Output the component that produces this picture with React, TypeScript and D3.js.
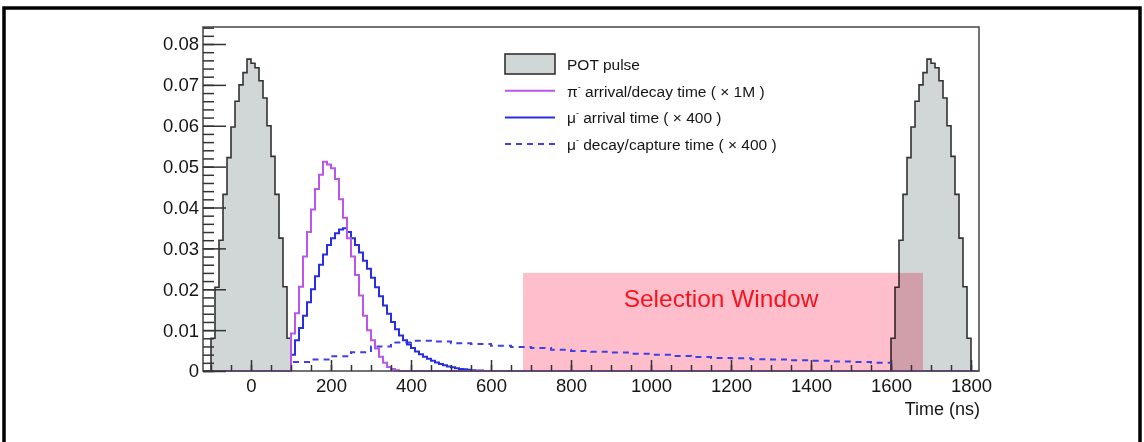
import React, { useEffect, useRef } from 'react';
import * as d3 from 'd3';

// POT pulse histogram (10 ns bins starting at -100 ns), repeated one period later
const potBinStart = -100;
const potRepeatStart = 1600;
const potValues = [
  0.0080, 0.0205, 0.0320, 0.0432, 0.0522, 0.0597, 0.0660, 0.0700, 0.0730, 0.0763,
  0.0753, 0.0742, 0.0710, 0.0668, 0.0600, 0.0525, 0.0432, 0.0325, 0.0206, 0.0080,
];

// pi- arrival/decay time (x 1M), 10 ns bins from 100 ns
const pionBinStart = 100;
const pionValues = [
  0.0092, 0.0141, 0.0206, 0.0280, 0.0340, 0.0395, 0.0445, 0.0480, 0.0512, 0.0505,
  0.0496, 0.0470, 0.0420, 0.0375, 0.0325, 0.0280, 0.0235, 0.0185, 0.0135, 0.0100,
  0.0075, 0.0055, 0.0035, 0.0020, 0.0010, 0.0005, 0.0002,
];

// mu- arrival time (x 400), 10 ns bins from 100 ns
const muArrBinStart = 100;
const muArrValues = [
  0.0040, 0.0075, 0.0105, 0.0135, 0.0168, 0.0200, 0.0232, 0.0260, 0.0285, 0.0308,
  0.0325, 0.0337, 0.0346, 0.0349, 0.0340, 0.0325, 0.0308, 0.0290, 0.0270, 0.0250,
  0.0228, 0.0205, 0.0183, 0.0160, 0.0140, 0.0120, 0.0102, 0.0087, 0.0075, 0.0065,
  0.0056, 0.0048, 0.0041, 0.0035, 0.0030, 0.0025, 0.0021, 0.0017, 0.0014, 0.0011,
  0.0009, 0.0007, 0.0005, 0.0004, 0.0003, 0.0002, 0.0001, 0.0001,
];

// mu- decay/capture time (x 400), 50 ns bins from 100 ns
const muDecBinStart = 100;
const muDecValues = [
  0.0022, 0.0028, 0.0036, 0.0046, 0.0060, 0.0070, 0.0074, 0.0072, 0.0068, 0.0066,
  0.0062, 0.0059, 0.0056, 0.0052, 0.0049, 0.0047, 0.0045, 0.0042, 0.0040, 0.0037,
  0.0034, 0.0032, 0.0031, 0.0029, 0.0028, 0.0026, 0.0025, 0.0023, 0.0022, 0.0020,
];

const selectionWindow = [680, 1680];
const selectionHeight = 0.024;

const xTicks = [0, 200, 400, 600, 800, 1000, 1200, 1400, 1600, 1800];
const yTicks = [0, 0.01, 0.02, 0.03, 0.04, 0.05, 0.06, 0.07, 0.08];

const legendItems = [
  { key: 'pot', sym: 'POT', label: 'POT pulse' },
  { key: 'pion', sym: 'π', label: ' arrival/decay time ( × 1M )' },
  { key: 'muArr', sym: 'μ', label: ' arrival time ( × 400 )' },
  { key: 'muDec', sym: 'μ', label: ' decay/capture time ( × 400 )' },
];

const FONT = '"Liberation Sans", Arial, Helvetica, sans-serif';

export default function App() {
  const svgRef = useRef<SVGSVGElement | null>(null);

  useEffect(() => {
    if (!svgRef.current) return;
    const width = 1144;
    const height = 442;
    const left = 203, right = 979, top = 27, bottom = 371;

    const svg = d3.select(svgRef.current);
    svg.selectAll('*').remove();
    svg.attr('width', width).attr('height', height);

    const x = d3.scaleLinear().domain([-120, 1820]).range([left, right]);
    const y = d3.scaleLinear().domain([0, 0.08416]).range([bottom, top]);

    // outer figure border
    svg.append('rect')
      .attr('x', 4).attr('y', 8).attr('width', 1136).attr('height', 460)
      .attr('fill', '#fff').attr('stroke', '#000').attr('stroke-width', 3.5);

    const toPoints = (start: number, w: number, vals: number[]) =>
      vals.map((v, i) => ({ x: start + i * w, y: v }));

    const stepLine = d3.line<{ x: number; y: number }>()
      .x(d => x(d.x)).y(d => y(d.y)).curve(d3.curveStepAfter);
    const stepArea = d3.area<{ x: number; y: number }>()
      .x(d => x(d.x)).y0(y(0)).y1(d => y(d.y)).curve(d3.curveStepAfter);

    // POT pulses
    [potBinStart, potRepeatStart].forEach(s => {
      const pts = toPoints(s, 10, potValues);
      const end = s + potValues.length * 10;
      const full = [{ x: s, y: 0 }, ...pts, { x: end, y: 0 }];
      svg.append('path').datum(full).attr('d', stepArea).attr('fill', '#d1d6d6');
      svg.append('path').datum(full).attr('d', stepLine)
        .attr('fill', 'none').attr('stroke', '#333').attr('stroke-width', 1.6);
    });

    // selection window (multiplied over the pulse)
    svg.append('rect')
      .attr('x', x(selectionWindow[0])).attr('y', y(selectionHeight))
      .attr('width', x(selectionWindow[1]) - x(selectionWindow[0]))
      .attr('height', y(0) - y(selectionHeight))
      .attr('fill', '#ffbecb')
      .style('mix-blend-mode', 'multiply');

    svg.append('text')
      .attr('x', (x(selectionWindow[0]) + x(selectionWindow[1])) / 2 - 2)
      .attr('y', 307)
      .attr('text-anchor', 'middle')
      .attr('fill', '#f5141e')
      .style('font-family', FONT).style('font-size', '24.5px')
      .text('Selection Window');

    const drawHist = (start: number, w: number, vals: number[], color: string, dash?: string) => {
      const pts = toPoints(start, w, vals);
      const end = start + vals.length * w;
      const full = [{ x: -120, y: 0 }, ...pts, { x: end, y: 0 }, { x: 1820, y: 0 }];
      const p = svg.append('path').datum(full).attr('d', stepLine)
        .attr('fill', 'none').attr('stroke', color).attr('stroke-width', 2);
      if (dash) p.attr('stroke-dasharray', dash);
    };

    drawHist(muDecBinStart, 50, muDecValues, '#3f3fe6', '6,5');
    drawHist(muArrBinStart, 10, muArrValues, '#2a2ee2');
    drawHist(pionBinStart, 10, pionValues, '#bc55ea');

    // frame
    svg.append('rect')
      .attr('x', left).attr('y', top).attr('width', right - left).attr('height', bottom - top)
      .attr('fill', 'none').attr('stroke', '#444').attr('stroke-width', 1.5);

    const styleAxis = (g: any) => {
      g.select('.domain').remove();
      g.selectAll('line').attr('stroke', '#333').attr('stroke-width', 1.5);
      g.selectAll('text').attr('fill', '#151515').style('font-family', FONT).style('font-size', '18.5px');
    };

    // x axis: minor ticks every 50 ns, majors every 200
    svg.append('g').attr('transform', `translate(0,${bottom})`)
      .call(d3.axisBottom(x).tickValues(d3.range(-100, 1801, 50)).tickSize(-6).tickFormat(() => ''))
      .call(styleAxis);
    svg.append('g').attr('transform', `translate(0,${bottom})`)
      .call(d3.axisBottom(x).tickValues(xTicks).tickSize(-11).tickPadding(8).tickFormat(d => `${d}`))
      .call(styleAxis);

    // y axis
    svg.append('g').attr('transform', `translate(${left},0)`)
      .call(d3.axisLeft(y).tickValues(d3.range(0, 0.0841, 0.002)).tickSize(-11).tickFormat(() => ''))
      .call(styleAxis);
    svg.append('g').attr('transform', `translate(${left},0)`)
      .call(d3.axisLeft(y).tickValues(yTicks).tickSize(-23).tickPadding(4)
        .tickFormat(d => (+d === 0 ? '0' : d3.format('.2f')(+d))))
      .call(styleAxis);

    svg.append('text')
      .attr('x', 980).attr('y', 415).attr('text-anchor', 'end')
      .attr('fill', '#151515').style('font-family', FONT).style('font-size', '18px')
      .text('Time (ns)');

    // legend
    const lg = svg.append('g');
    legendItems.forEach((it, i) => {
      const cy = 64 + i * 26.7;
      if (it.key === 'pot') {
        lg.append('rect').attr('x', 505).attr('y', cy - 10).attr('width', 50).attr('height', 20)
          .attr('fill', '#d1d6d6').attr('stroke', '#333').attr('stroke-width', 1.6);
      } else {
        const color = it.key === 'pion' ? '#bc55ea' : it.key === 'muArr' ? '#2a2ee2' : '#3f3fe6';
        const ln = lg.append('line').attr('x1', 505).attr('x2', 555).attr('y1', cy).attr('y2', cy)
          .attr('stroke', color).attr('stroke-width', 2);
        if (it.key === 'muDec') ln.attr('stroke-dasharray', '6,5');
      }
      const t = lg.append('text').attr('x', 567).attr('y', cy + 6)
        .attr('fill', '#151515').style('font-family', FONT).style('font-size', '15.5px');
      if (it.key === 'pot') {
        t.text(it.label);
      } else {
        t.append('tspan').text(it.sym);
        t.append('tspan').attr('dy', -7).style('font-size', '9px').text('-');
        t.append('tspan').attr('dy', 7).text(it.label);
      }
    });
  }, []);

  return (
    <svg ref={svgRef} style={{ position: 'absolute', left: 0, top: 0, display: 'block' }} />
  );
}
